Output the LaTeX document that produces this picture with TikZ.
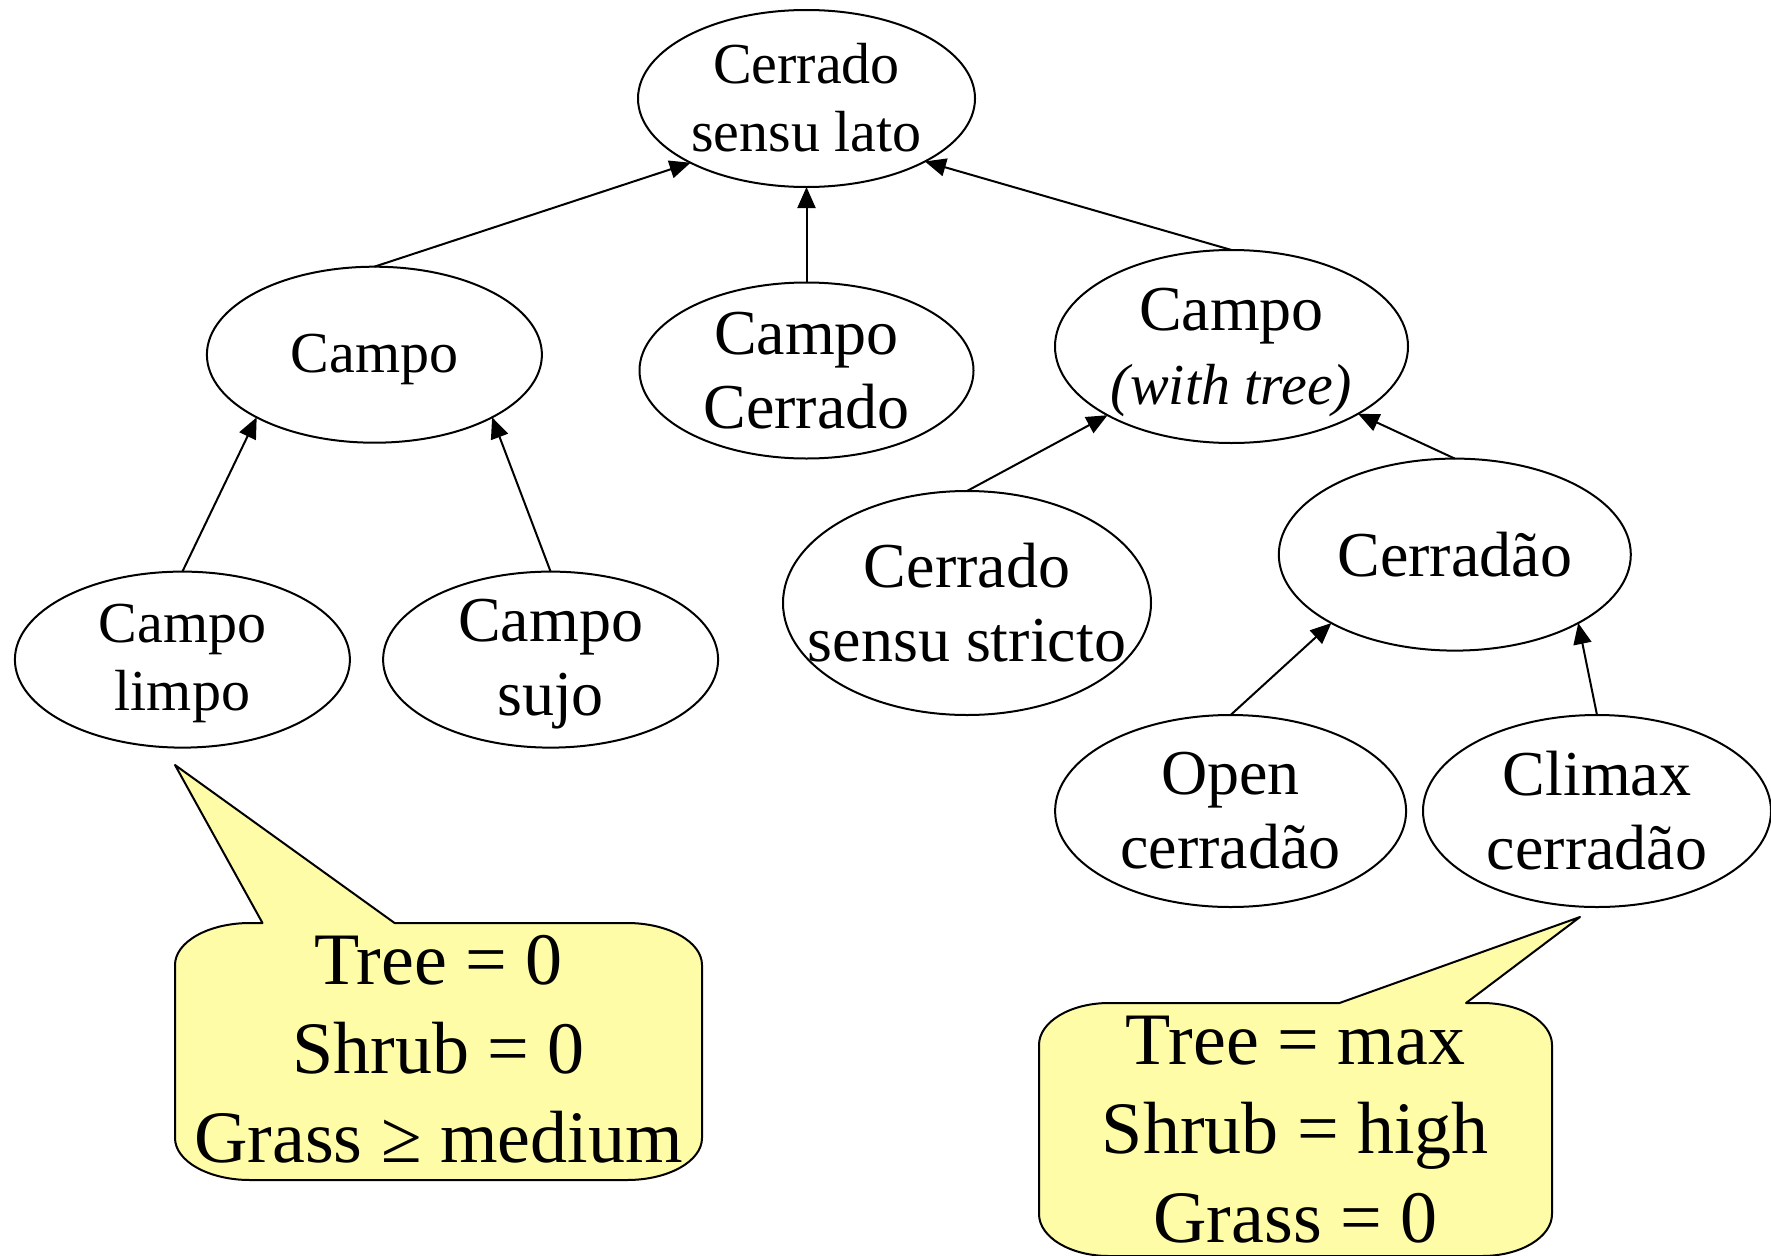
\documentclass[tikz,border=0pt]{standalone}
\usepackage{fontspec}
\setmainfont{Liberation Serif}
\usetikzlibrary{shapes.geometric,arrows.meta}
\definecolor{calloutyellow}{RGB}{255,252,168}
\newcommand\fsA{\fontsize{58pt}{68pt}\selectfont}
\newcommand\fsB{\fontsize{64pt}{74pt}\selectfont}
\newcommand\fsC{\fontsize{74pt}{89pt}\selectfont}
\tikzset{
  ell/.style={draw, ellipse, line width=2pt, inner sep=0pt, outer sep=0pt},
  lab/.style={align=center, inner sep=0pt, outer sep=0pt},
  conn/.style={-{Triangle[length=21pt,width=18pt]}, line width=2pt},
  callout/.style={fill=calloutyellow, draw, line width=2pt, line join=round}
}
\begin{document}
\begin{tikzpicture}[x=1pt,y=1pt]
\useasboundingbox (0,0) rectangle (1771,-1255);
% ellipses
\node[ell, minimum width=337pt, minimum height=177pt] (root) at (806.5,-98.5) {};
\node[ell, minimum width=335pt, minimum height=176pt] (campo) at (374.4,-354.7) {};
\node[ell, minimum width=334pt, minimum height=176pt] (campocer) at (806.5,-370.5) {};
\node[ell, minimum width=353pt, minimum height=193pt] (cwt) at (1231.5,-346.5) {};
\node[ell, minimum width=335pt, minimum height=176pt] (limpo) at (182.4,-659.6) {};
\node[ell, minimum width=335pt, minimum height=176pt] (sujo) at (550.6,-659.6) {};
\node[ell, minimum width=368pt, minimum height=224pt] (css) at (967,-603) {};
\node[ell, minimum width=352pt, minimum height=192pt] (cerradao) at (1454.8,-554.6) {};
\node[ell, minimum width=351pt, minimum height=192pt] (open) at (1230.6,-811) {};
\node[ell, minimum width=348pt, minimum height=192pt] (climax) at (1597,-811) {};
% labels
\node[lab, font=\fsA] (root-t) at ([yshift=1pt]root) {Cerrado\\sensu lato};
\node[lab, font=\fsA] (campo-t) at ([yshift=-5pt]campo) {Campo};
\node[lab, font=\fsB] (campocer-t) at (campocer) {Campo\\Cerrado};
\node[lab, font=\fsB] (cwt-t) at ([yshift=-6pt]cwt) {Campo\\{\fsA\itshape (with tree)}};
\node[lab, font=\fsA] (limpo-t) at ([yshift=-4pt]limpo) {Campo\\limpo};
\node[lab, font=\fsB] (sujo-t) at ([yshift=-5pt]sujo) {Campo\\sujo};
\node[lab, font=\fsB] (css-t) at (css) {Cerrado\\sensu stricto};
\node[lab, font=\fsB] (cerradao-t) at (cerradao) {Cerradão};
\node[lab, font=\fsB] (open-t) at (open) {Open\\cerradão};
\node[lab, font=\fsB] (climax-t) at (climax) {Climax\\cerradão};
% connectors
\draw[conn] (campo.north) -- (root.209);
\draw[conn] (campocer.north) -- (root.south);
\draw[conn] (cwt.north) -- (root.332);
\draw[conn] (limpo.north) -- (campo.208);
\draw[conn] (sujo.north) -- (campo.332);
\draw[conn] (css.north) -- (cwt.209);
\draw[conn] (cerradao.north) -- (cwt.332);
\draw[conn] (open.north) -- (cerradao.209);
\draw[conn] (climax.north) -- (cerradao.331);
% callouts
\draw[callout] (262.5,-923) -- (175,-765) -- (394.6,-923) -- (627,-923)
  arc[start angle=90,end angle=0,x radius=75,y radius=42] -- (702,-1138)
  arc[start angle=0,end angle=-90,x radius=75,y radius=42] -- (250,-1180)
  arc[start angle=-90,end angle=-180,x radius=75,y radius=42] -- (175,-965)
  arc[start angle=180,end angle=90,x radius=75,y radius=42] -- cycle;
\draw[callout] (1339.5,-1003) -- (1580,-917) -- (1466,-1003) -- (1482,-1003)
  arc[start angle=90,end angle=0,x radius=70,y radius=42] -- (1552,-1214)
  arc[start angle=0,end angle=-90,x radius=70,y radius=42] -- (1109,-1256)
  arc[start angle=-90,end angle=-180,x radius=70,y radius=42] -- (1039,-1045)
  arc[start angle=180,end angle=90,x radius=70,y radius=42] -- cycle;
\node[lab, font=\fsC] (left-t) at (438.5,-1049) {Tree = 0\\Shrub = 0\\Grass ≥ medium};
\node[lab, font=\fsC] (right-t) at (1295.5,-1129.5) {Tree = max\\Shrub = high\\Grass = 0};
\end{tikzpicture}
\end{document}
